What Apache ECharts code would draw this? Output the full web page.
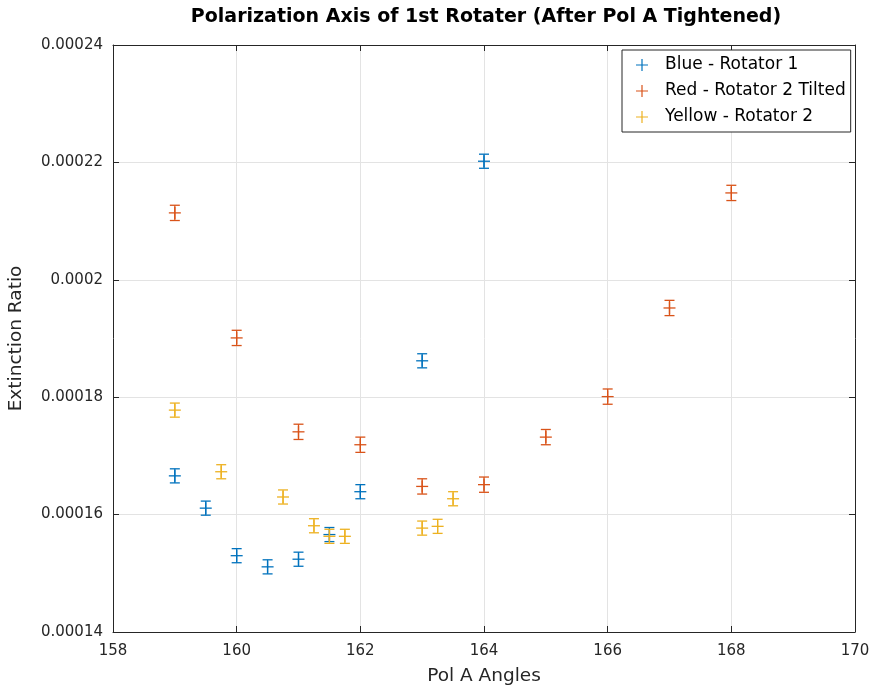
<!DOCTYPE html>
<html><head><meta charset="utf-8">
<script src="https://cdn.jsdelivr.net/npm/echarts@6/dist/echarts.min.js"></script>
<style>html,body{margin:0;padding:0;background:#fff}#c{width:873px;height:688px}</style>
</head><body><div id="c"></div>
<script>
// ---- data ----
const titleText = 'Polarization Axis of 1st Rotater (After Pol A Tightened)';
const xName = 'Pol A Angles';
const yName = 'Extinction Ratio';
const seriesNames = ['Blue - Rotator 1', 'Red - Rotator 2 Tilted', 'Yellow - Rotator 2'];
const xTicks = [158, 160, 162, 164, 166, 168, 170];
const yTicks = [0.00014, 0.00016, 0.00018, 0.0002, 0.00022, 0.00024];

const blueX = [159, 159.5, 160, 160.5, 161, 161.5, 162, 163, 164];
const blueY = [0.0001666, 0.0001611, 0.0001530, 0.0001511, 0.0001524, 0.0001566, 0.0001639, 0.0001862, 0.0002202];
const blueErr = [0.0000012, 0.0000012, 0.0000012, 0.0000012, 0.0000012, 0.0000012, 0.0000012, 0.0000012, 0.0000012];

const redX = [159, 160, 161, 162, 163, 164, 165, 166, 167, 168];
const redY = [0.0002114, 0.0001901, 0.0001741, 0.0001719, 0.0001648, 0.0001651, 0.0001732, 0.0001801, 0.0001952, 0.0002148];
const redErr = [0.0000013, 0.0000013, 0.0000013, 0.0000013, 0.0000013, 0.0000013, 0.0000013, 0.0000013, 0.0000013, 0.0000013];

const yellowX = [159, 159.75, 160.75, 161.25, 161.5, 161.75, 163, 163.25, 163.5];
const yellowY = [0.0001778, 0.0001673, 0.0001630, 0.0001581, 0.0001563, 0.0001563, 0.0001577, 0.0001580, 0.0001627];
const yellowErr = [0.0000012, 0.0000012, 0.0000012, 0.0000012, 0.0000012, 0.0000012, 0.0000012, 0.0000012, 0.0000012];

const colors = ['#0072BD', '#D95319', '#EDB120'];

// ---- chart ----
const chart = echarts.init(document.getElementById('c'), null, {renderer: 'canvas'});
const font = '"DejaVu Sans"';
const plusIcon = 'path://M5.4,0h1.2v5.4h5.4v1.2h-5.4v5.4h-1.2v-5.4h-5.4v-1.2h5.4z';

function buildData(xs, ys, es) {
  return xs.map((x, i) => [x, ys[i], es[i]]);
}
function errRender(color) {
  return function (params, api) {
    const x = api.value(0), y = api.value(1), e = api.value(2);
    const c = api.coord([x, y]);
    const lo = api.coord([x, y - e]);
    const hi = api.coord([x, y + e]);
    const cap = 5, m = 6;
    const style = {stroke: color, lineWidth: 1.3, fill: null};
    return {
      type: 'group',
      children: [
        {type: 'line', shape: {x1: c[0], y1: lo[1], x2: c[0], y2: hi[1]}, style},
        {type: 'line', shape: {x1: c[0] - cap, y1: lo[1], x2: c[0] + cap, y2: lo[1]}, style},
        {type: 'line', shape: {x1: c[0] - cap, y1: hi[1], x2: c[0] + cap, y2: hi[1]}, style},
        {type: 'line', shape: {x1: c[0] - m, y1: c[1], x2: c[0] + m, y2: c[1]}, style},
        {type: 'line', shape: {x1: c[0], y1: c[1] - m, x2: c[0], y2: c[1] + m}, style}
      ]
    };
  };
}
const allData = [
  buildData(blueX, blueY, blueErr),
  buildData(redX, redY, redErr),
  buildData(yellowX, yellowY, yellowErr)
];

const yFmt = v => String(parseFloat(Number(v).toPrecision(6)));
const axisCol = '#262626';

const option = {
  animation: false,
  backgroundColor: '#fff',
  color: colors,
  grid: {left: 113, right: 18, top: 45, bottom: 56, show: false, containLabel: false, outerBoundsMode: 'none'},
  graphic: [{
    type: 'text', x: 486, y: 17,
    style: {text: titleText, font: 'bold 19px "DejaVu Sans"', fill: '#000', textAlign: 'center', textVerticalAlign: 'middle'}
  }],
  legend: {
    show: true, orient: 'vertical', left: 622, top: 50,
    backgroundColor: '#fff', borderColor: axisCol, borderWidth: 1,
    padding: [5, 5, 5, 14], itemGap: 6, itemWidth: 12, itemHeight: 12,
    textStyle: {fontFamily: font, fontSize: 17, color: '#000', lineHeight: 20, padding: [0, 0, 0, 12]},
    data: seriesNames.map(n => ({name: n, icon: plusIcon}))
  },
  xAxis: [{
    type: 'value', min: 158, max: 170, interval: 2, position: 'bottom',
    name: xName, nameLocation: 'middle', nameGap: 35,
    nameTextStyle: {fontFamily: font, fontSize: 18.5, color: axisCol},
    axisLine: {show: true, onZero: false, lineStyle: {color: axisCol, width: 1}},
    axisTick: {show: true, inside: true, length: 6, lineStyle: {color: axisCol}},
    axisLabel: {fontFamily: font, fontSize: 15, color: axisCol, margin: 12},
    splitLine: {show: true, lineStyle: {color: '#e3e3e3'}}
  }, {
    type: 'value', min: 158, max: 170, interval: 2, position: 'top',
    axisLine: {show: true, onZero: false, lineStyle: {color: axisCol, width: 1}},
    axisTick: {show: true, inside: true, length: 6, lineStyle: {color: axisCol}},
    axisLabel: {show: false}, splitLine: {show: false}
  }],
  yAxis: [{
    type: 'value', min: 0.00014, max: 0.00024, interval: 0.00002, position: 'left',
    name: yName, nameLocation: 'middle', nameGap: 87,
    nameTextStyle: {fontFamily: font, fontSize: 18.5, color: axisCol},
    axisLine: {show: true, onZero: false, lineStyle: {color: axisCol, width: 1}},
    axisTick: {show: true, inside: true, length: 6, lineStyle: {color: axisCol}},
    axisLabel: {fontFamily: font, fontSize: 15, color: axisCol, margin: 10, formatter: yFmt},
    splitLine: {show: true, lineStyle: {color: '#e3e3e3'}}
  }, {
    type: 'value', min: 0.00014, max: 0.00024, interval: 0.00002, position: 'right',
    axisLine: {show: true, onZero: false, lineStyle: {color: axisCol, width: 1}},
    axisTick: {show: true, inside: true, length: 6, lineStyle: {color: axisCol}},
    axisLabel: {show: false}, splitLine: {show: false}
  }],
  series: seriesNames.map((n, i) => ({
    name: n, type: 'custom', xAxisIndex: 0, yAxisIndex: 0,
    itemStyle: {color: colors[i]},
    renderItem: errRender(colors[i]),
    encode: {x: 0, y: 1},
    data: allData[i]
  }))
};
chart.setOption(option);
</script>
</body></html>
